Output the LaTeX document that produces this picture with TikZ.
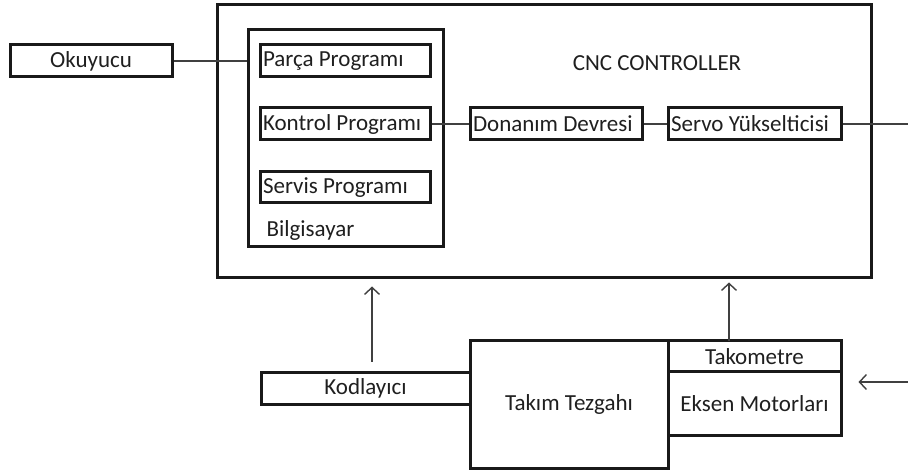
\documentclass[tikz,border=0pt]{standalone}
\usepackage{fontspec}
\setmainfont{Carlito}
\usetikzlibrary{arrows.meta}
\begin{document}
\begin{tikzpicture}[x=1pt,y=-1pt,
  txt/.style={font=\fontsize{23}{27}\selectfont, text=black!88},
  box/.style={draw=black!90, line width=3pt, inner sep=0pt, txt},
  lbox/.style={box, inner xsep=3pt},
  conn/.style={draw=black!75, line width=1.4pt},
  arr/.style={conn, -{Straight Barb[length=7pt,width=15pt]}}]
\useasboundingbox (0,0) rectangle (908,470);
% controller
\node[box, minimum width=654pt, minimum height=273pt] (cnc) at (544,141.5) {};
\node[txt] (cnctxt) at (657,63) {CNC CONTROLLER};
\node[box, minimum width=195pt, minimum height=217pt] (bilg) at (345.5,138.5) {};
\node[txt, anchor=west] (bilgtxt) at (263,230) {Bilgisayar};
\node[lbox, minimum width=170pt, minimum height=32pt] (parca) at (345,61) {\makebox[164pt][l]{Parça Programı}};
\node[lbox, minimum width=170pt, minimum height=32pt] (kontrol) at (345,124) {\makebox[164pt][l]{Kontrol Programı}};
\node[lbox, minimum width=170pt, minimum height=31pt] (servis) at (345,187.5) {\makebox[164pt][l]{Servis Programı}};
\node[lbox, minimum width=172pt, minimum height=32pt] (donanim) at (556,124) {\makebox[166pt][l]{Donanım Devresi}};
\node[lbox, minimum width=173pt, minimum height=32pt] (servo) at (754.5,124) {\makebox[167pt][l]{Servo Yükselticisi}};
% outside
\node[box, minimum width=162pt, minimum height=32pt] (okuyucu) at (91,61) {Okuyucu};
\node[box, minimum width=209pt, minimum height=31pt] (kodlayici) at (365.5,388.5) {Kodlayıcı};
\node[box, minimum width=198pt, minimum height=127pt] (takim) at (569,404.5) {Takım Tezgahı};
\node[box, minimum width=173pt, minimum height=31pt] (takometre) at (754.5,356.5) {Takometre};
\node[box, minimum width=173pt, minimum height=63pt] (eksen) at (754.5,403.5) {Eksen Motorları};
% connectors
\coordinate (redge1) at (908,124);
\coordinate (redge2) at (908,382);
\coordinate (kodtop) at (372,362);
\coordinate (takotop) at (729,341);
\draw[conn] (okuyucu.east) -- (okuyucu.east -| bilg.west);
\draw[conn] (kontrol.east) -- (donanim.west);
\draw[conn] (donanim.east) -- (servo.west);
\draw[conn] (servo.east) -- (redge1);
\draw[arr, shorten >=7pt] (kodtop) -- (kodtop |- cnc.south);
\draw[arr, shorten >=3pt] (takotop) -- (takotop |- cnc.south);
\draw[arr, shorten >=16pt] (redge2) -- (redge2 -| eksen.east);
\end{tikzpicture}
\end{document}
